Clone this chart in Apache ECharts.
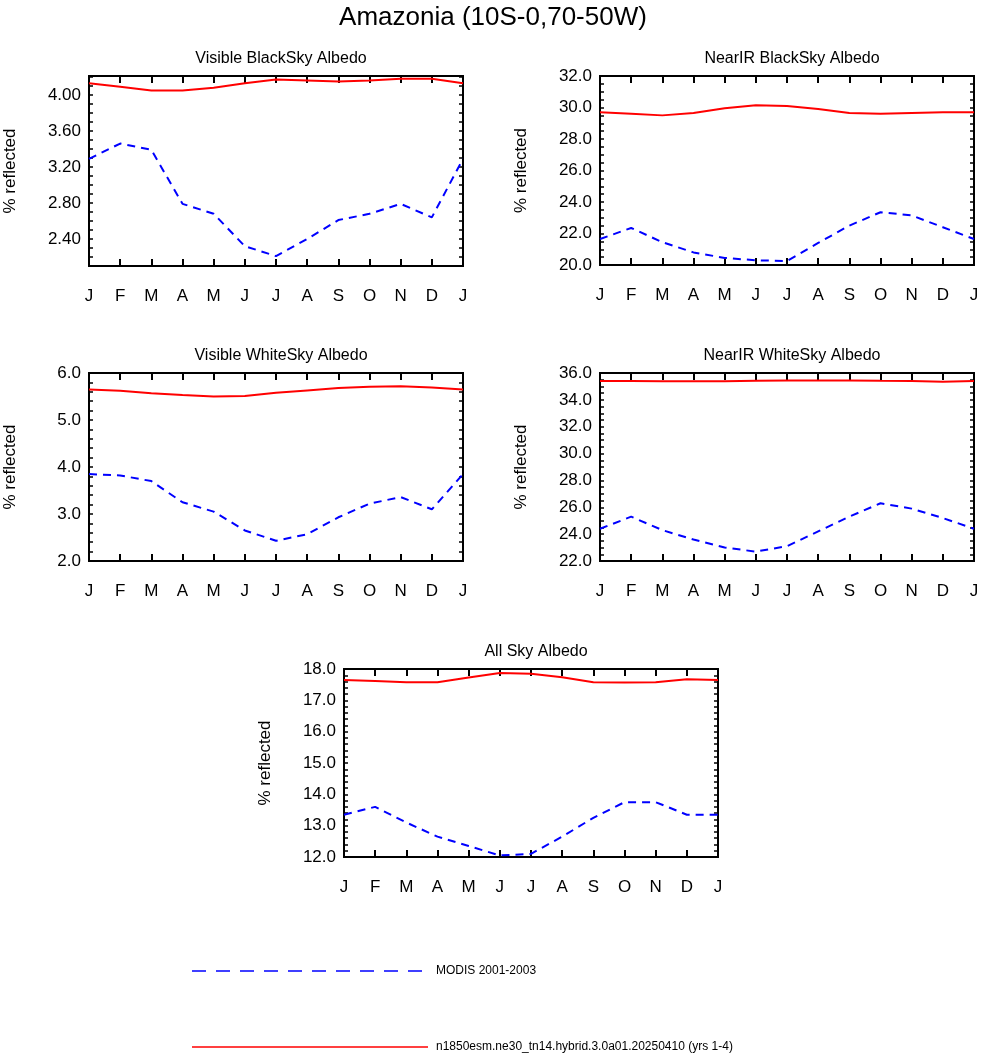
<!DOCTYPE html>
<html>
<head>
<meta charset="utf-8">
<script src="https://cdn.jsdelivr.net/npm/echarts@6/dist/echarts.min.js"></script>
<style>html,body{margin:0;padding:0;background:#fff}#main{width:986px;height:1056px}</style>
</head>
<body>
<div id="main"></div>
<script>
const months = ['J','F','M','A','M','J','J','A','S','O','N','D','J']
const modisName = 'MODIS 2001-2003'
const modelName = 'n1850esm.ne30_tn14.hybrid.3.0a01.20250410 (yrs 1-4)'

const visBlackModel = [4.13,4.09,4.05,4.05,4.08,4.13,4.17,4.16,4.15,4.16,4.18,4.18,4.13]
const visBlackModis = [3.29,3.46,3.39,2.79,2.68,2.32,2.21,2.40,2.61,2.68,2.79,2.64,3.29]
const nirBlackModel = [29.7,29.6,29.5,29.65,29.95,30.15,30.1,29.9,29.65,29.6,29.65,29.7,29.7]
const nirBlackModis = [21.65,22.35,21.45,20.8,20.45,20.3,20.25,21.4,22.5,23.35,23.15,22.4,21.65]
const visWhiteModel = [5.65,5.62,5.57,5.53,5.50,5.51,5.58,5.63,5.68,5.71,5.72,5.69,5.65]
const visWhiteModis = [3.85,3.82,3.70,3.25,3.05,2.65,2.43,2.57,2.93,3.22,3.36,3.10,3.85]
const nirWhiteModel = [35.4,35.4,35.38,35.38,35.38,35.42,35.45,35.45,35.45,35.42,35.4,35.35,35.4]
const nirWhiteModis = [24.4,25.3,24.3,23.6,23.0,22.7,23.1,24.2,25.3,26.3,25.9,25.2,24.4]
const allSkyModel = [17.65,17.62,17.58,17.58,17.73,17.87,17.85,17.74,17.58,17.57,17.58,17.67,17.65]
const allSkyModis = [13.35,13.6,13.1,12.65,12.35,12.05,12.1,12.65,13.25,13.75,13.75,13.35,13.35]

const visBlackTicks = [2.4,2.8,3.2,3.6,4.0]
const nirBlackTicks = [20,22,24,26,28,30,32]
const visWhiteTicks = [2,3,4,5,6]
const nirWhiteTicks = [22,24,26,28,30,32,34,36]
const allSkyTicks = [12,13,14,15,16,17,18]

const panels = [
  {title:'Visible BlackSky Albedo', left:89, top:76, h:190, min:2.1, max:4.21, minor:0.1, ticks:visBlackTicks, dec:2, model:visBlackModel, modis:visBlackModis},
  {title:'NearIR BlackSky Albedo', left:600, top:76, h:189, min:20, max:32, minor:0.5, ticks:nirBlackTicks, dec:1, model:nirBlackModel, modis:nirBlackModis},
  {title:'Visible WhiteSky Albedo', left:89, top:373, h:188, min:2, max:6, minor:0.2, ticks:visWhiteTicks, dec:1, model:visWhiteModel, modis:visWhiteModis},
  {title:'NearIR WhiteSky Albedo', left:600, top:373, h:188, min:22, max:36, minor:0.5, ticks:nirWhiteTicks, dec:1, model:nirWhiteModel, modis:nirWhiteModis},
  {title:'All Sky Albedo', left:344, top:669, h:188, min:12, max:18, minor:0.2, ticks:allSkyTicks, dec:1, model:allSkyModel, modis:allSkyModis}
]

const font = 'Liberation Sans'
const line = {show:true, lineStyle:{color:'#000', width:2}}
const grid = [], xAxis = [], yAxis = [], series = [], title = []

title.push({text:'Amazonia (10S-0,70-50W)', left:'center', top:0, textStyle:{fontFamily:font, fontSize:26, fontWeight:'normal', color:'#000'}})

panels.forEach((p, i) => {
  grid.push({left:p.left, top:p.top, width:374, height:p.h})
  title.push({text:p.title, left:p.left + 187, top:p.top - 30, textAlign:'center',
    textStyle:{fontFamily:font, fontSize:16, fontWeight:'normal', color:'#000'}})
  // bottom + top month axes
  xAxis.push({type:'category', gridIndex:i, data:months, boundaryGap:false, position:'bottom',
    axisLine:line, axisTick:{inside:true, length:7, lineStyle:{width:2, color:'#000'}, interval:0},
    axisLabel:{fontFamily:font, fontSize:17, color:'#000', margin:22, interval:0}})
  xAxis.push({type:'category', gridIndex:i, data:months, boundaryGap:false, position:'top',
    axisLine:line, axisTick:{inside:true, length:7, lineStyle:{width:2, color:'#000'}, interval:0},
    axisLabel:{show:false}})
  const base = {type:'value', gridIndex:i, min:p.min, max:p.max, splitLine:{show:false}}
  const yMajor = pos => Object.assign({}, base, {position:pos, interval:p.minor, axisLine:line,
    axisTick:{inside:true, length:8, customValues:p.ticks, lineStyle:{width:2, color:'#000'}},
    axisLabel:{show:pos === 'left', customValues:p.ticks, fontFamily:font, fontSize:17, color:'#000', margin:8,
      formatter:v => v.toFixed(p.dec)},
    name:pos === 'left' ? '% reflected' : '', nameLocation:'middle', nameGap:70,
    nameTextStyle:{fontFamily:font, fontSize:17, color:'#000'}})
  const yMinor = pos => Object.assign({}, base, {position:pos, interval:p.minor, axisLine:line,
    axisTick:{show:true, inside:true, length:4, lineStyle:{width:1.5, color:'#000'}}, axisLabel:{show:false}})
  const yi = yAxis.length
  yAxis.push(yMajor('left'), yMinor('left'), yMajor('right'), yMinor('right'))
  series.push({name:modelName, type:'line', xAxisIndex:i * 2, yAxisIndex:yi, data:p.model,
    symbol:'none', lineStyle:{color:'#ff0000', width:2}, itemStyle:{color:'#ff0000'}, z:5})
  series.push({name:modisName, type:'line', xAxisIndex:i * 2, yAxisIndex:yi, data:p.modis,
    symbol:'none', lineStyle:{color:'#0000ff', width:2, type:[8,6]}, itemStyle:{color:'#0000ff'}, z:5})
})

// legend drawn as graphic
const legendItems = [
  {name:modisName, y:971, color:'#0000ff', dash:[14,10]},
  {name:modelName, y:1047, color:'#ff0000', dash:null}
]
const graphic = []
legendItems.forEach(it => {
  graphic.push({type:'line', shape:{x1:192, y1:it.y, x2:428, y2:it.y},
    style:{stroke:it.color, lineWidth:1.5, lineDash:it.dash}})
  graphic.push({type:'text', x:436, y:it.y, style:{text:it.name, fontFamily:font, fontSize:12, fill:'#000', verticalAlign:'middle'}})
})

const option = {
  animation:false,
  title:title,
  grid:grid, xAxis:xAxis, yAxis:yAxis, series:series,
  graphic:graphic
}

const chart = echarts.init(document.getElementById('main'))
chart.setOption(option)
</script>
</body>
</html>
